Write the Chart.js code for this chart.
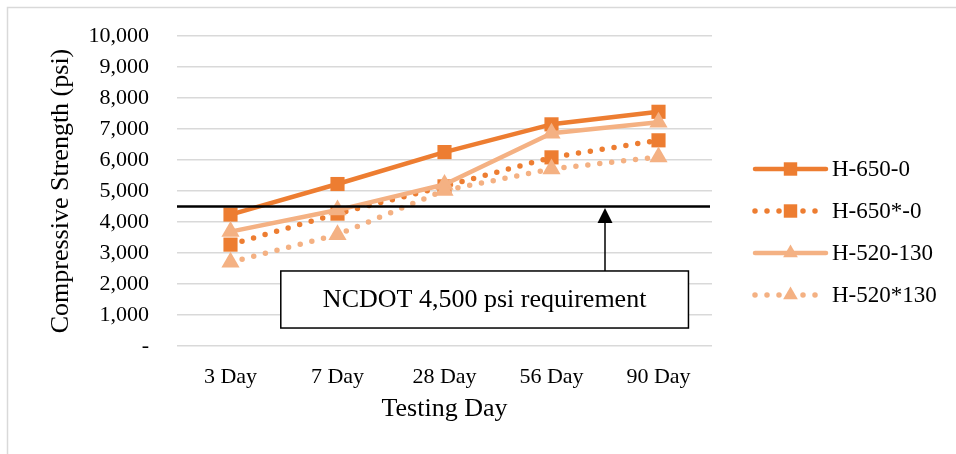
<!DOCTYPE html>
<html>
<head>
<meta charset="utf-8">
<script src="https://cdn.jsdelivr.net/npm/chart.js@4.4.1/dist/chart.umd.min.js"></script>
<style>
  html, body { margin: 0; padding: 0; background: #fff; }
  #wrap { width: 956px; height: 454px; }
</style>
</head>
<body>
<div id="wrap"><canvas id="strength-chart"></canvas></div>
<script>
// testing ages and mean compressive strength (psi) per mix
const days = ['3 Day', '7 Day', '28 Day', '56 Day', '90 Day'];
const h650 = [4240, 5225, 6255, 7150, 7555];
const h650Star = [3270, 4270, 5150, 6085, 6635];
const h520 = [3690, 4385, 5210, 6860, 7215];
const h520Star = [2700, 3590, 5020, 5710, 6100];
const seriesNames = ['H-650-0', 'H-650*-0', 'H-520-130', 'H-520*130'];

// NCDOT minimum and its callout
const requirement = 4500;
const requirementText = 'NCDOT 4,500 psi requirement';
const yTicks = { min: 0, max: 10000, step: 1000 };

const darkOrange = '#ED7D31';
const lightOrange = '#F4B183';
const serif = "'Liberation Serif', 'Times New Roman', serif";

function makeSeries(label, data, color, dotted, marker, order) {
  return {
    label: label,
    data: data,
    borderColor: color,
    backgroundColor: color,
    borderWidth: dotted ? 5.5 : 4.5,
    borderDash: dotted ? [0, 12] : [],
    borderCapStyle: 'round',
    borderJoinStyle: 'round',
    pointStyle: marker,
    pointRadius: marker === 'rect' ? 10 : 10.5,
    pointHoverRadius: 10,
    pointBorderWidth: 0,
    tension: 0,
    order: order
  };
}

// white page with the thin grey frame round the chart
const framePlugin = {
  id: 'frame',
  beforeDraw(chart) {
    const ctx = chart.ctx;
    ctx.save();
    ctx.fillStyle = '#fff';
    ctx.fillRect(0, 0, chart.width, chart.height);
    ctx.strokeStyle = '#d9d9d9';
    ctx.lineWidth = 1.5;
    ctx.beginPath();
    ctx.moveTo(7.5, chart.height);
    ctx.lineTo(7.5, 7.5);
    ctx.lineTo(chart.width, 7.5);
    ctx.stroke();
    ctx.restore();
  }
};

// requirement line, arrow and text box
const requirementPlugin = {
  id: 'requirement',
  afterDatasetsDraw(chart) {
    const ctx = chart.ctx;
    const area = chart.chartArea;
    const x = chart.scales.x;
    const y = chart.scales.y;
    const lineY = y.getPixelForValue(requirement);

    ctx.save();
    ctx.strokeStyle = '#000';
    ctx.lineWidth = 2.5;
    ctx.beginPath();
    ctx.moveTo(area.left, lineY);
    ctx.lineTo(area.right - 2, lineY);
    ctx.stroke();

    const boxLeft = x.getPixelForValue(0.47);
    const boxRight = x.getPixelForValue(4.28);
    const boxTop = y.getPixelForValue(2420);
    const boxBottom = y.getPixelForValue(580);

    // arrow pointing up at the line
    const ax = x.getPixelForValue(3.5);
    const tip = lineY + 1.5;
    ctx.fillStyle = '#000';
    ctx.beginPath();
    ctx.moveTo(ax, tip);
    ctx.lineTo(ax - 7.5, tip + 15);
    ctx.lineTo(ax + 7.5, tip + 15);
    ctx.closePath();
    ctx.fill();
    ctx.lineWidth = 1.5;
    ctx.beginPath();
    ctx.moveTo(ax, tip + 14);
    ctx.lineTo(ax, boxTop);
    ctx.stroke();

    ctx.fillStyle = '#fff';
    ctx.fillRect(boxLeft, boxTop, boxRight - boxLeft, boxBottom - boxTop);
    ctx.strokeRect(boxLeft, boxTop, boxRight - boxLeft, boxBottom - boxTop);
    ctx.fillStyle = '#000';
    ctx.font = '26px ' + serif;
    ctx.textAlign = 'center';
    ctx.textBaseline = 'middle';
    ctx.fillText(requirementText, (boxLeft + boxRight) / 2, (boxTop + boxBottom) / 2 + 1);
    ctx.restore();
  }
};

// legend on the right: line sample with marker in the middle
const sideLegendPlugin = {
  id: 'sideLegend',
  afterDraw(chart) {
    const ctx = chart.ctx;
    const x0 = chart.chartArea.right + 41;
    const len = 73;
    chart.data.datasets.forEach((ds, i) => {
      const rowY = 169 + i * 42;
      ctx.save();
      ctx.strokeStyle = ds.borderColor;
      ctx.fillStyle = ds.backgroundColor;
      ctx.lineWidth = ds.borderWidth;
      ctx.lineCap = 'round';
      ctx.setLineDash(ds.borderDash);
      ctx.beginPath();
      ctx.moveTo(x0 + 2, rowY);
      ctx.lineTo(x0 + len, rowY);
      ctx.stroke();
      ctx.setLineDash([]);
      Chart.helpers.drawPoint(ctx, {
        pointStyle: ds.pointStyle,
        rotation: 0,
        radius: ds.pointStyle === 'rect' ? 9.5 : 8.5,
        borderWidth: 0
      }, x0 + len / 2 + 1, rowY);
      ctx.fillStyle = '#000';
      ctx.font = '23px ' + serif;
      ctx.textAlign = 'left';
      ctx.textBaseline = 'middle';
      ctx.fillText(ds.label, x0 + 79, rowY + 1);
      ctx.restore();
    });
  }
};

const ctx = document.getElementById('strength-chart').getContext('2d');
window.strengthChart = new Chart(ctx, {
  type: 'line',
  data: {
    labels: days,
    datasets: [
      makeSeries(seriesNames[0], h650, darkOrange, false, 'rect', 4),
      makeSeries(seriesNames[1], h650Star, darkOrange, true, 'rect', 3),
      makeSeries(seriesNames[2], h520, lightOrange, false, 'triangle', 2),
      makeSeries(seriesNames[3], h520Star, lightOrange, true, 'triangle', 1)
    ]
  },
  options: {
    responsive: true,
    maintainAspectRatio: false,
    animation: false,
    layout: { padding: { left: 46, right: 244, top: 36, bottom: 29 } },
    plugins: {
      legend: { display: false },
      tooltip: { enabled: false }
    },
    scales: {
      x: {
        offset: true,
        grid: { display: false, drawTicks: false },
        border: { display: false },
        ticks: { padding: 18, color: '#000', maxRotation: 0, font: { family: serif, size: 22 } },
        title: {
          display: true,
          text: 'Testing Day',
          color: '#000',
          font: { family: serif, size: 26 },
          padding: { top: 0, bottom: 0 }
        },
        afterFit: scale => { scale.height = 79; }
      },
      y: {
        min: yTicks.min,
        max: yTicks.max,
        grid: { color: '#d9d9d9', lineWidth: 1.5, drawTicks: false },
        border: { display: false },
        ticks: {
          stepSize: yTicks.step,
          autoSkip: false,
          padding: 28,
          color: '#000',
          font: { family: serif, size: 22 },
          callback: v => v === 0 ? '-' : v.toLocaleString('en-US')
        },
        title: {
          display: true,
          text: 'Compressive Strength (psi)',
          color: '#000',
          font: { family: serif, size: 26 },
          padding: 0
        },
        afterFit: scale => {
          // keep the label gap from pushing the plot area down
          scale.width = 131;
          scale.paddingTop = 0;
          scale.paddingBottom = 0;
        }
      }
    }
  },
  plugins: [framePlugin, requirementPlugin, sideLegendPlugin]
});
</script>
</body>
</html>
